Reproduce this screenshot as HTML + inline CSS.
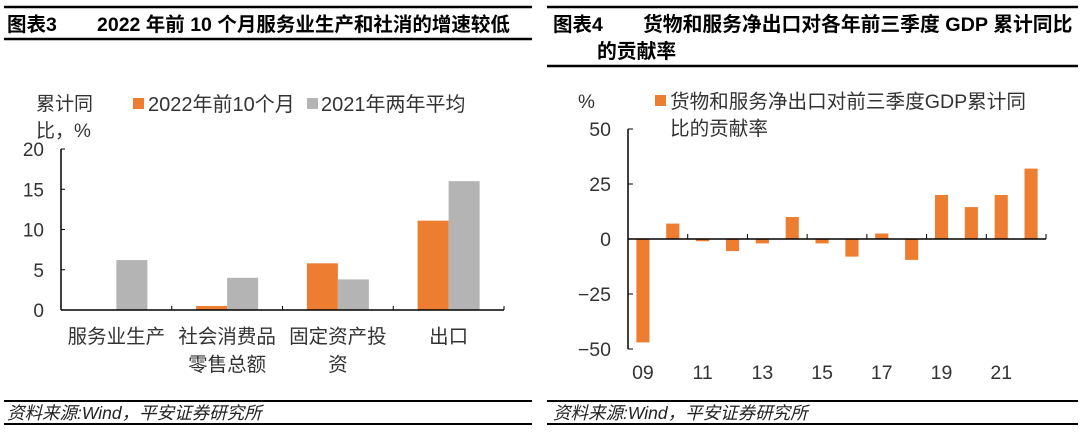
<!DOCTYPE html>
<html><head><meta charset="utf-8"><style>
html,body{margin:0;padding:0;background:#fff;}
svg{display:block;font-family:"Liberation Sans","Noto Sans CJK SC",sans-serif;}
</style></head><body>
<svg id="s" width="1080" height="437" viewBox="0 0 1080 437" xmlns="http://www.w3.org/2000/svg">
<g>
<line x1="4" y1="7" x2="532" y2="7" stroke="#000" stroke-width="2.5"/>
<line x1="4" y1="39" x2="532" y2="39" stroke="#000" stroke-width="2.5"/>
<text x="7" y="31" font-size="19.5" font-weight="bold">图表3</text>
<text x="97" y="31" font-size="19.5" font-weight="bold">2022 年前 10 个月服务业生产和社消的增速较低</text>
</g>
<g>
<line x1="4" y1="401" x2="532" y2="401" stroke="#000" stroke-width="2"/>
<line x1="4" y1="424" x2="532" y2="424" stroke="#000" stroke-width="2"/>
<text x="7" y="419" font-size="17.5" font-style="italic" fill="#222">资料来源:Wind，平安证券研究所</text>
</g>
<g>
<line x1="547" y1="7" x2="1078" y2="7" stroke="#000" stroke-width="2.5"/>
<line x1="547" y1="66" x2="1078" y2="66" stroke="#000" stroke-width="2.5"/>
<text x="553" y="31" font-size="19.5" font-weight="bold">图表4</text>
<text x="643" y="31" font-size="19.8" font-weight="bold">货物和服务净出口对各年前三季度 GDP 累计同比</text>
<text x="597" y="58" font-size="19.8" font-weight="bold">的贡献率</text>
</g>
<g>
<line x1="547" y1="401" x2="1078" y2="401" stroke="#000" stroke-width="2"/>
<line x1="547" y1="424" x2="1078" y2="424" stroke="#000" stroke-width="2"/>
<text x="553" y="419" font-size="17.5" font-style="italic" fill="#222">资料来源:Wind，平安证券研究所</text>
</g>
<text x="36" y="110" font-size="19" fill="#333">累计同</text>
<text x="36" y="137" font-size="19" fill="#333">比，%</text>
<rect x="133" y="98" width="11" height="11" fill="#ED7D31"/>
<text x="148" y="111" font-size="20" fill="#333">2022年前10个月</text>
<rect x="307" y="98" width="11" height="11" fill="#B4B4B4"/>
<text x="321" y="111" font-size="20" fill="#333">2021年两年平均</text>
<text x="578" y="108" font-size="19" fill="#333">%</text>
<rect x="655" y="95" width="11" height="11" fill="#ED7D31"/>
<text x="670" y="108" font-size="19.6" fill="#333">货物和服务净出口对前三季度GDP累计同</text>
<text x="670" y="135" font-size="19.6" fill="#333">比的贡献率</text>
<g id="left"></g>
<g id="right"></g>
</svg>
<script>
const leftCategories = [["服务业生产"],["社会消费品","零售总额"],["固定资产投","资"],["出口"]];
const leftSeries2022 = [0, 0.5, 5.8, 11.1];
const leftSeries2021 = [6.2, 4.0, 3.8, 16.0];
const leftTicks = [0, 5, 10, 15, 20];

const rightYears = ["09","10","11","12","13","14","15","16","17","18","19","20","21","22"];
const rightValues = [-47, 7, -1, -5.5, -2, 10, -2, -8, 2.5, -9.5, 20, 14.5, 20, 32];
const rightTicks = [50, 25, 0, -25, -50];

const NS = "http://www.w3.org/2000/svg";
function mk(parent, tag, attrs, text){
  const e = document.createElementNS(NS, tag);
  for (const k in attrs) e.setAttribute(k, attrs[k]);
  if (text !== undefined) e.textContent = text;
  parent.appendChild(e);
  return e;
}

(function(){
  const g = document.getElementById('left');
  const x0 = 61, x1 = 504, y0 = 310, yTop = 149;
  const yS = v => y0 - (v - 0) / 20 * (y0 - yTop);
  const cw = (x1 - x0) / leftCategories.length;
  const bw = cw * 0.28;
  const ax = mk(g, 'line', {x1:x0, y1:yTop, x2:x0, y2:y0, stroke:'#000', 'stroke-width':1.5});
  
  
  leftTicks.forEach(t => {
    const y = yS(t);
    const tk = mk(g, 'line', {x1:x0, y1:y, x2:x0+4, y2:y, stroke:'#000', 'stroke-width':1});
    
    
    const lb = mk(g, 'text', {x:x0-17, y:y+7, 'font-size':19, 'text-anchor':'end', fill:'#333'}, String(t));
    
    
  });
  for (let i = 1; i <= leftCategories.length; i++) {
    const x = x0 + i * cw;
    const tk = mk(g, 'line', {x1:x, y1:y0, x2:x, y2:y0-4, stroke:'#000', 'stroke-width':1});
    
    
  }
  leftCategories.forEach((c, i) => {
    const cx = x0 + (i + 0.5) * cw;
    const v1 = leftSeries2022[i], v2 = leftSeries2021[i];
    if (v1 !== 0) {
      const r = mk(g, 'rect', {x:cx-bw, y:Math.min(yS(v1), y0), width:bw, height:Math.abs(y0-yS(v1)), fill:'#ED7D31'});
      
      
    }
    const r2 = mk(g, 'rect', {x:cx, y:Math.min(yS(v2), y0), width:bw, height:Math.abs(y0-yS(v2)), fill:'#B4B4B4'});
    
    
    c.forEach((line, j) => {
      const t = mk(g, 'text', {x:cx, y:343 + j*28, 'font-size':19.5, 'text-anchor':'middle', fill:'#333'}, line);
      
      
    });
  });
  const bx = mk(g, 'line', {x1:x0, y1:y0, x2:x1, y2:y0, stroke:'#000', 'stroke-width':1.5});
  
  
})();

(function(){
  const g = document.getElementById('right');
  const x0 = 628, x1 = 1046, yTop = 129, yBot = 349;
  const yS = v => yTop + (50 - v) / 100 * (yBot - yTop);
  const y0 = yS(0);
  const cw = (x1 - x0) / rightYears.length;
  const bw = cw * 0.44;
  const ax = mk(g, 'line', {x1:x0, y1:yTop, x2:x0, y2:yBot, stroke:'#000', 'stroke-width':1.5});
  
  
  rightTicks.forEach(t => {
    const y = yS(t);
    const tk = mk(g, 'line', {x1:x0, y1:y, x2:x0+5, y2:y, stroke:'#000', 'stroke-width':1});
    
    
    const lb = mk(g, 'text', {x:x0-17, y:y+7, 'font-size':19.5, 'text-anchor':'end', fill:'#333'}, (t < 0 ? '\u2212' + Math.abs(t) : String(t)));
    
    
  });
  rightYears.forEach((yr, i) => {
    const cx = x0 + (i + 0.5) * cw;
    const v = rightValues[i];
    const r = mk(g, 'rect', {x:cx-bw/2, y:Math.min(yS(v), y0), width:bw, height:Math.abs(yS(v)-y0), fill:'#ED7D31'});
    
    
    if (i % 2 === 0) {
      const t = mk(g, 'text', {x:cx, y:379, 'font-size':19.5, 'text-anchor':'middle', fill:'#333'}, yr);
      
      
    }
  });
  for (let i = 2; i <= rightYears.length; i += 2) {
    const x = x0 + i * cw;
    const tk = mk(g, 'line', {x1:x, y1:y0, x2:x, y2:y0-5, stroke:'#000', 'stroke-width':1});
    
    
  }
  const bx = mk(g, 'line', {x1:x0, y1:y0, x2:x1, y2:y0, stroke:'#000', 'stroke-width':1.5});
  
  
})();
</script>
</body></html>
